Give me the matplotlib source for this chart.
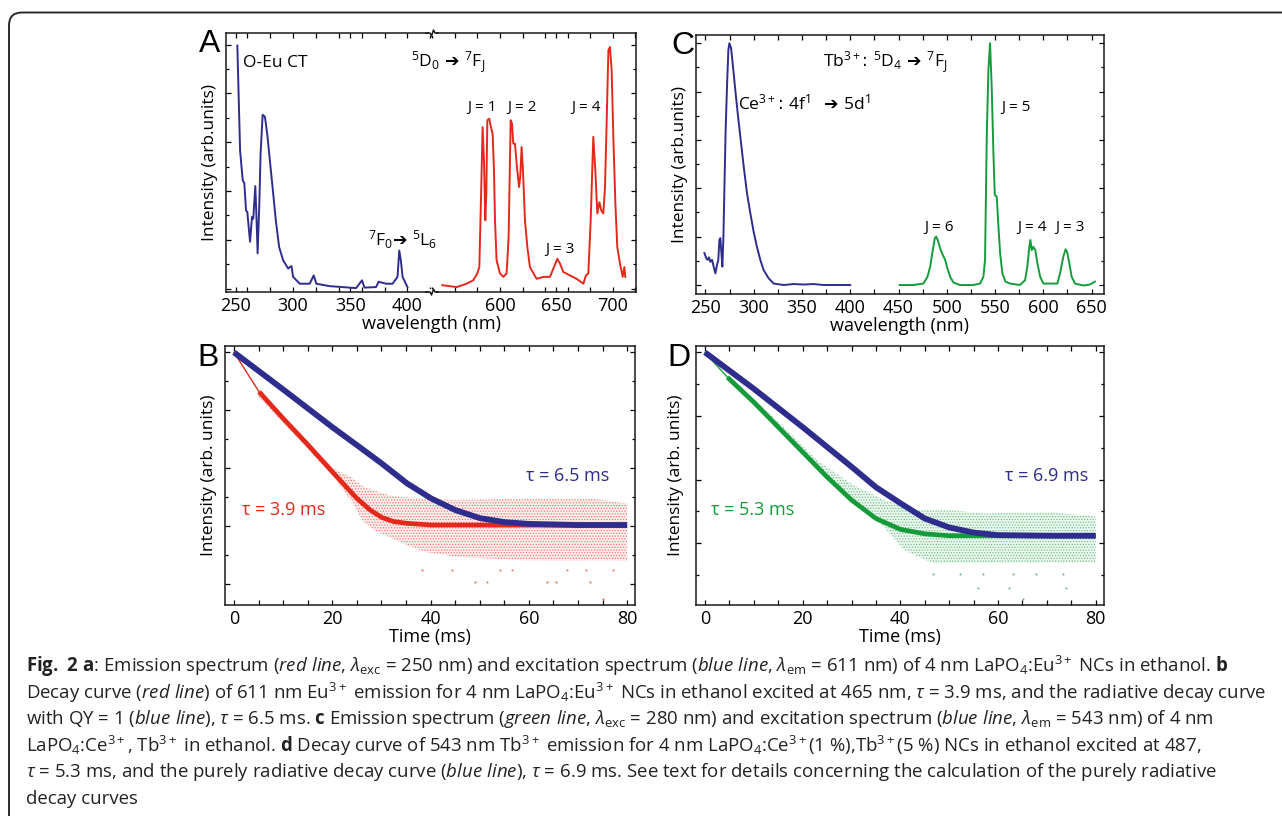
import matplotlib as mpl
mpl.use('Agg')
from matplotlib import pyplot as plt
from matplotlib.patches import FancyBboxPatch, Rectangle
from matplotlib.ticker import MultipleLocator, FixedLocator

# ---------------- data ----------------
# panel A, Eu3+ excitation (blue), arbitrary units
a_exc_wl = [251.4, 253.8, 256.1, 257.5, 259.0, 260.1, 262.5, 264.2, 265.3, 267.1, 268.2, 269.1,
            270.6, 271.7, 273.5, 275.5, 277.5, 279.8, 282.7, 285.0, 287.9, 291.4, 295.8, 297.2,
            298.7, 300.1, 305.9, 314.6, 318.1, 320.4, 332.0, 355.1, 360.3, 362.4, 372.5, 374.8,
            381.2, 387.0, 391.3, 392.8, 394.2, 395.7, 400.0]
a_exc_int = [4.98, 2.83, 2.22, 2.16, 1.60, 1.57, 0.96, 1.47, 1.43, 2.10, 1.40, 0.72,
             1.74, 2.76, 3.56, 3.52, 3.17, 2.63, 1.95, 1.40, 0.85, 0.58, 0.41, 0.44,
             0.46, 0.24, 0.10, 0.10, 0.27, 0.10, 0.05, 0.01, 0.17, 0.02, 0.03, 0.14,
             0.10, 0.10, 0.24, 0.78, 0.58, 0.24, 0.03]
# panel A, Eu3+ emission (red)
a_em_wl = [548.8, 561.5, 570.4, 576.3, 579.9, 581.7, 583.4, 584.6, 585.8, 587.0, 587.9, 588.8,
           590.5, 592.0, 593.5, 594.7, 595.6, 597.0, 600.0, 603.0, 605.9, 607.7, 609.5, 610.7,
           611.8, 613.3, 614.8, 616.9, 618.0, 619.2, 620.4, 622.2, 624.3, 626.6, 632.5, 638.5,
           644.4, 647.9, 650.9, 653.3, 656.2, 662.1, 668.0, 674.0, 676.3, 678.4, 680.5, 682.8,
           684.6, 686.4, 688.2, 689.9, 691.7, 693.2, 694.7, 696.2, 697.6, 699.1, 700.6, 702.4,
           704.1, 706.5, 708.9, 710.4, 711.2]
a_em_int = [0.07, 0.03, 0.10, 0.17, 0.31, 0.44, 2.08, 3.31, 2.63, 1.40, 1.95, 3.45,
            3.48, 3.31, 3.17, 2.42, 1.40, 0.58, 0.31, 0.24, 0.31, 1.06, 3.45, 3.38,
            2.97, 2.97, 2.56, 2.08, 2.29, 2.90, 2.42, 1.40, 0.85, 0.44, 0.20, 0.24,
            0.24, 0.44, 0.61, 0.51, 0.34, 0.27, 0.20, 0.10, 0.27, 0.31, 1.40, 3.11,
            2.42, 1.54, 1.77, 1.60, 1.54, 2.08, 3.45, 4.88, 4.95, 4.47, 3.11, 1.74,
            0.85, 0.51, 0.24, 0.44, 0.24]
a_left_ticks = [250, 300, 350, 400]
a_right_ticks = [600, 650, 700]

# panel C, Ce3+ excitation (blue)
c_exc_wl = [249.0, 251.0, 252.4, 253.8, 255.1, 256.9, 258.6, 260.4, 262.0, 263.4, 264.5, 265.5,
            266.6, 267.6, 268.7, 269.6, 271.0, 272.4, 273.8, 274.9, 276.6, 278.6, 281.0, 283.5,
            286.2, 289.7, 293.1, 296.6, 300.0, 303.4, 306.9, 310.3, 315.5, 320.7, 331.0, 341.4,
            351.8, 362.0, 372.4, 386.2, 400.0]
c_exc_int = [0.66, 0.55, 0.52, 0.57, 0.48, 0.52, 0.38, 0.24, 0.41, 0.52, 0.93, 0.97,
             0.66, 0.38, 1.00, 1.90, 3.21, 4.10, 4.86, 5.00, 4.90, 4.52, 4.03, 3.55,
             3.07, 2.45, 1.90, 1.48, 1.10, 0.79, 0.52, 0.31, 0.14, 0.03, 0.00, 0.02,
             0.01, 0.02, 0.00, 0.00, 0.00]
# panel C, Tb3+ emission (green)
c_em_wl = [451.1, 465.5, 475.8, 480.0, 482.8, 485.5, 487.6, 489.0, 490.6, 493.1, 495.9, 498.3,
           500.7, 503.5, 506.9, 513.7, 527.6, 534.5, 537.9, 539.6, 541.4, 543.1, 544.8, 546.5,
           548.3, 549.7, 551.7, 553.1, 555.2, 557.6, 560.7, 565.5, 575.8, 581.1, 583.4, 585.5,
           586.6, 588.0, 589.6, 591.7, 593.8, 596.7, 600.0, 614.5, 617.3, 620.7, 623.1, 624.9,
           626.9, 629.3, 632.8, 641.5, 648.3, 653.4]
c_em_int = [0.00, 0.00, 0.03, 0.17, 0.38, 0.72, 0.97, 1.00, 0.93, 0.76, 0.62, 0.52,
            0.34, 0.17, 0.05, 0.00, 0.00, 0.03, 0.17, 0.52, 3.07, 4.45, 5.00, 4.10,
            2.72, 1.86, 1.83, 1.34, 0.66, 0.24, 0.07, 0.03, 0.00, 0.10, 0.38, 0.79,
            0.93, 0.72, 0.79, 0.72, 0.45, 0.17, 0.03, 0.03, 0.24, 0.59, 0.74, 0.66,
            0.45, 0.17, 0.03, -0.01, 0.01, 0.07]

# panel B, Eu3+ decay (log intensity, arbitrary offset)
b_fit_t = [0, 5.1, 10, 15.1, 20, 22.6, 25, 27.7, 30.1, 32.5, 35.2, 40.1, 80]
b_fit_y = [4.00, 3.32, 2.86, 2.40, 1.94, 1.70, 1.48, 1.28, 1.15, 1.08, 1.05, 1.02, 1.02]
b_rad_t = [0, 10, 20, 25, 30.1, 35.2, 40.1, 45, 50, 55.1, 60, 70, 80]
b_rad_y = [4.00, 3.36, 2.71, 2.40, 2.08, 1.74, 1.48, 1.28, 1.14, 1.07, 1.04, 1.02, 1.02]
b_cloud_t = [4.7, 14.9, 20.3, 23.7, 26.4, 29.1, 31.9, 34.5, 38.6, 45.4, 59, 72.6, 80]
b_cloud_hi = [3.29, 2.45, 1.99, 1.85, 1.68, 1.60, 1.53, 1.50, 1.48, 1.45, 1.48, 1.48, 1.39]
b_cloud_lo = [3.26, 2.34, 1.85, 1.45, 1.07, 0.90, 0.80, 0.70, 0.56, 0.47, 0.41, 0.41, 0.41]
b_out_t = [38.2, 44.3, 54.1, 56.5, 67.7, 71.7, 77.2, 49.0, 51.4, 63.6, 65.6, 72.4, 75.1]
b_out_y = [0.24, 0.24, 0.24, 0.24, 0.24, 0.24, 0.24, 0.04, 0.04, 0.04, 0.04, 0.04, -0.26]

# panel D, Tb3+ decay
d_fit_t = [0, 4.6, 10, 15, 20, 25, 30, 35, 40, 45, 50, 80]
d_fit_y = [2.99, 2.60, 2.21, 1.82, 1.43, 1.04, 0.68, 0.39, 0.22, 0.15, 0.12, 0.12]
d_rad_t = [0, 10, 20, 25, 30, 35, 40, 45, 50, 55, 60, 70.5, 80]
d_rad_y = [2.99, 2.42, 1.82, 1.51, 1.20, 0.88, 0.63, 0.39, 0.25, 0.17, 0.13, 0.12, 0.12]
d_cloud_t = [4.6, 16.2, 23, 29.8, 36.6, 40.7, 43.4, 46.8, 50.2, 57, 70.6, 80]
d_cloud_hi = [2.65, 1.82, 1.30, 0.94, 0.68, 0.58, 0.52, 0.52, 0.52, 0.47, 0.49, 0.42]
d_cloud_lo = [2.57, 1.72, 1.15, 0.68, 0.26, -0.10, -0.20, -0.31, -0.31, -0.31, -0.30, -0.29]
d_out_t = [46.7, 52.2, 56.9, 63.0, 67.8, 73.3, 55.9, 62.2, 73.9, 65.2]
d_out_y = [-0.48, -0.48, -0.48, -0.48, -0.48, -0.48, -0.70, -0.70, -0.70, -0.875]

caption = [
    r"$\mathbf{Fig.\ 2\ a}$: Emission spectrum ($\mathit{red\ line}$, $\lambda_{\rm exc}$ = 250 nm) and excitation spectrum ($\mathit{blue\ line}$, $\lambda_{\rm em}$ = 611 nm) of 4 nm LaPO$_4$:Eu$^{3+}$ NCs in ethanol. $\mathbf{b}$",
    r"Decay curve ($\mathit{red\ line}$) of 611 nm Eu$^{3+}$ emission for 4 nm LaPO$_4$:Eu$^{3+}$ NCs in ethanol excited at 465 nm, $\tau$ = 3.9 ms, and the radiative decay curve",
    r"with QY = 1 ($\mathit{blue\ line}$), $\tau$ = 6.5 ms. $\mathbf{c}$ Emission spectrum ($\mathit{green\ line}$, $\lambda_{\rm exc}$ = 280 nm) and excitation spectrum ($\mathit{blue\ line}$, $\lambda_{\rm em}$ = 543 nm) of 4 nm",
    r"LaPO$_4$:Ce$^{3+}$, Tb$^{3+}$ in ethanol. $\mathbf{d}$ Decay curve of 543 nm Tb$^{3+}$ emission for 4 nm LaPO$_4$:Ce$^{3+}$(1 %),Tb$^{3+}$(5 %) NCs in ethanol excited at 487,",
    r"$\tau$ = 5.3 ms, and the purely radiative decay curve ($\mathit{blue\ line}$), $\tau$ = 6.9 ms. See text for details concerning the calculation of the purely radiative",
    "decay curves",
]

BLUE = '#2e2d8e'
RED = '#e4291c'
GREEN = '#169b3b'
FONT = 'Open Sans'

plt.rcParams.update({
    'font.family': [FONT, 'DejaVu Sans'],
    'mathtext.fontset': 'custom',
    'mathtext.rm': FONT,
    'mathtext.it': FONT + ':italic',
    'mathtext.bf': FONT + ':bold',
    'axes.linewidth': 1.1,
    'axes.edgecolor': '#1a1a1a',
    'xtick.direction': 'in', 'ytick.direction': 'in',
    'xtick.major.size': 3.5, 'xtick.minor.size': 3.5,
    'ytick.major.size': 3.5, 'ytick.minor.size': 2.5,
    'xtick.major.width': 0.9, 'xtick.minor.width': 0.9,
    'ytick.major.width': 0.9, 'ytick.minor.width': 0.9,
    'xtick.labelsize': 13, 'axes.labelsize': 13,
    'xtick.major.pad': 3.5,
    'hatch.linewidth': 0.6,
})

W, H = 1282, 816
fig = plt.figure(figsize=(W / 100, H / 100), dpi=100)


def px_axes(left, top, right, bottom):
    return fig.add_axes([left / W, 1 - bottom / H, (right - left) / W, (bottom - top) / H])


def style(ax, xmaj, xmin, left=True, right=True):
    if isinstance(xmaj, list):
        ax.xaxis.set_major_locator(FixedLocator(xmaj))
    else:
        ax.xaxis.set_major_locator(MultipleLocator(xmaj))
    ax.xaxis.set_minor_locator(MultipleLocator(xmin))
    ax.yaxis.set_major_locator(MultipleLocator(1))
    ax.yaxis.set_minor_locator(MultipleLocator(0.5))
    ax.tick_params(which='both', top=True, left=left, right=right, labelleft=False)


# ---- A (broken x axis) ----
axA1 = px_axes(226, 33, 432, 292)
axA2 = px_axes(432, 33, 636, 292)
axA1.plot(a_exc_wl, a_exc_int, color=BLUE, lw=1.4)
axA2.plot(a_em_wl, a_em_int, color=RED, lw=1.4)
axA1.set_xlim(241.5, 421.4)
axA2.set_xlim(539.7, 720.7)
for ax in (axA1, axA2):
    ax.set_ylim(-0.07, 5.237)
style(axA1, a_left_ticks, 20, right=False)
style(axA2, a_right_ticks, 20, left=False)
axA1.spines['right'].set_visible(False)
axA2.spines['left'].set_visible(False)
axA1.set_ylabel('Intensity (arb.units)', fontsize=12.5, labelpad=6)

# ---- C ----
axC = px_axes(696, 35, 1104, 294)
axC.plot(c_exc_wl, c_exc_int, color=BLUE, lw=1.4)
axC.plot(c_em_wl, c_em_int, color=GREEN, lw=1.4)
axC.set_xlim(240.3, 662.8)
axC.set_ylim(-0.186, 5.17)
style(axC, 50, 25)
axC.set_ylabel('Intensity (arb.units)', fontsize=12.5, labelpad=6)
axC.set_xlabel('wavelength (nm)', labelpad=0)

# ---- B ----
axB = px_axes(225, 346, 635, 605)
axB.fill_between(b_cloud_t, b_cloud_lo, b_cloud_hi, facecolor=RED, alpha=0.08, lw=0)
axB.fill_between(b_cloud_t, b_cloud_lo, b_cloud_hi, facecolor='none', edgecolor=RED,
                 hatch='......', lw=0, alpha=0.55)
axB.plot(b_out_t, b_out_y, ls='none', marker='s', ms=1.2, mew=0, color=RED, alpha=0.8)
axB.plot(b_fit_t[:2], b_fit_y[:2], color=RED, lw=1.0)
axB.plot(b_fit_t[1:], b_fit_y[1:], color=RED, lw=3.4, solid_capstyle='butt')
axB.plot(b_rad_t, b_rad_y, color=BLUE, lw=4.2, solid_capstyle='butt')
axB.set_xlim(-1.83, 81.6)
axB.set_ylim(-0.36, 4.11)
style(axB, 20, 5)
axB.set_xlabel('Time (ms)', labelpad=0)
axB.set_ylabel('Intensity (arb. units)', fontsize=12.5, labelpad=6)

# ---- D ----
axD = px_axes(696, 346, 1104, 605)
axD.fill_between(d_cloud_t, d_cloud_lo, d_cloud_hi, facecolor=GREEN, alpha=0.08, lw=0)
axD.fill_between(d_cloud_t, d_cloud_lo, d_cloud_hi, facecolor='none', edgecolor=GREEN,
                 hatch='......', lw=0, alpha=0.55)
axD.plot(d_out_t, d_out_y, ls='none', marker='s', ms=1.2, mew=0, color=GREEN, alpha=0.8)
axD.plot(d_fit_t[:2], d_fit_y[:2], color=GREEN, lw=1.0)
axD.plot(d_fit_t[1:], d_fit_y[1:], color=GREEN, lw=3.4, solid_capstyle='butt')
axD.plot(d_rad_t, d_rad_y, color=BLUE, lw=4.2, solid_capstyle='butt')
axD.set_xlim(-1.84, 81.7)
axD.set_ylim(-0.964, 3.09)
style(axD, 20, 5)
axD.set_xlabel('Time (ms)', labelpad=0)
axD.set_ylabel('Intensity (arb. units)', fontsize=12.5, labelpad=9)

# ---- overlay in pixel coordinates: frame, letters, annotations, caption ----
ov = fig.add_axes([0, 0, 1, 1], zorder=20)
ov.set_xlim(0, W)
ov.set_ylim(H, 0)
ov.axis('off')
ov.add_patch(FancyBboxPatch((9, 12.5), W + 30, H + 30,
                            boxstyle='round,pad=0,rounding_size=13',
                            fill=False, lw=1.4, ec='#2a2a2a'))

# axis break marks on panel A
for yb in (33, 292):
    ov.add_patch(Rectangle((428.5, yb - 3), 7, 6, fc='white', ec='none'))
    ov.plot([426, 430, 431.5, 433.5, 435, 438], [yb, yb, yb + 3, yb - 3, yb, yb],
            color='#1a1a1a', lw=1.1)
ov.text(432, 324, 'wavelength (nm)', fontsize=13, ha='center', va='center')

for s, x, y in [('A', 210, 44), ('B', 208.5, 358), ('C', 682.5, 46), ('D', 679, 358.5)]:
    ov.text(x, y, s, fontsize=23, family='Liberation Sans', ha='center', va='center')

ov.text(243, 63, 'O-Eu CT', fontsize=12.5, ha='left', va='center')
ov.text(448, 62, r'$^{5}\mathrm{D}_{0}$ ➔ $^{7}\mathrm{F}_{\mathrm{J}}$', fontsize=12.5,
        family='DejaVu Sans', ha='center', va='center')
ov.text(402.5, 240, r'$^{7}\mathrm{F}_{0}$➔ $^{5}\mathrm{L}_{6}$', fontsize=12.5,
        family='DejaVu Sans', ha='center', va='center')
for s, x, y in [('J = 1', 482.5, 107), ('J = 2', 522.5, 107), ('J = 4', 586, 107),
                ('J = 3', 559.5, 250), ('J = 5', 1016, 107), ('J = 6', 939, 228),
                ('J = 4', 1032.5, 228), ('J = 3', 1070, 228)]:
    ov.text(x, y, s, fontsize=11, ha='center', va='center')
ov.text(885, 62, r'$\mathrm{Tb}^{3+}$: $^{5}\mathrm{D}_{4}$ ➔ $^{7}\mathrm{F}_{\mathrm{J}}$',
        fontsize=12.5, family='DejaVu Sans', ha='center', va='center')
ov.text(804.5, 103, r'$\mathrm{Ce}^{3+}$: $\mathrm{4f}^{1}$  ➔ $\mathrm{5d}^{1}$',
        fontsize=12.5, family='DejaVu Sans', ha='center', va='center')

for s, c, x, y in [('τ = 3.9 ms', RED, 284, 510), ('τ = 6.5 ms', BLUE, 568, 476),
                   ('τ = 5.3 ms', GREEN, 753, 510), ('τ = 6.9 ms', BLUE, 1046.7, 476)]:
    ov.text(x, y, s, fontsize=13, color=c, ha='center', va='center')

# caption: font size fitted to the average width ratio of the long lines in the original
cap_y = [666, 693, 719, 746, 772, 799]
cap_w = {0: 1237, 1: 1237, 2: 1173, 4: 1157}
cap_texts = [ov.text(26, y, s, fontsize=12, ha='left', va='center', color='#222')
             for s, y in zip(caption, cap_y)]
fig.canvas.draw()
renderer = fig.canvas.get_renderer()
ratios = [w / cap_texts[i].get_window_extent(renderer).width for i, w in cap_w.items()]
widest = max(t.get_window_extent(renderer).width for t in cap_texts)
scale = min(sum(ratios) / len(ratios), 1240 / widest)
for t in cap_texts:
    t.set_fontsize(12 * scale)

fig.savefig('out.png', dpi=100, facecolor='white')
